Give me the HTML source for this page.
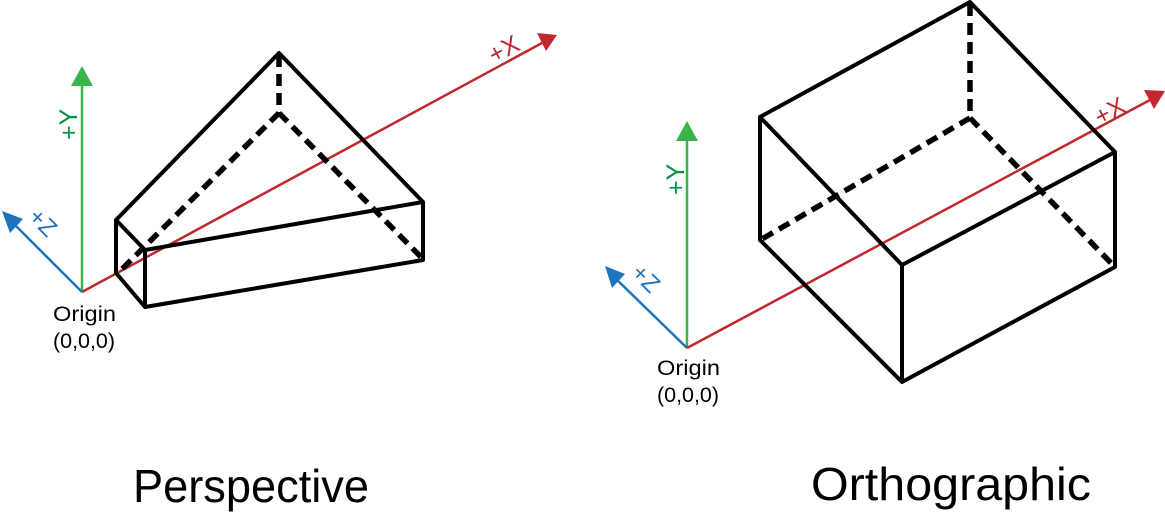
<!DOCTYPE html>
<html><head><meta charset="utf-8"><style>
html,body{margin:0;padding:0;background:#fff;}
svg{display:block;font-family:"Liberation Sans",sans-serif;}
</style></head><body>
<svg width="1165" height="513" viewBox="0 0 1165 513">
<g>
  <line x1="82" y1="292" x2="82" y2="84" stroke="#39b54a" stroke-width="2.5"/>
  <polygon points="82,66 71,86 93,86" fill="#39b54a"/>
  <text transform="translate(77,140) rotate(-90)" font-size="25" fill="#009245">+Y</text>
  <line x1="82" y1="292" x2="12" y2="222" stroke="#1c75bc" stroke-width="2.5"/>
  <polygon points="2,211 23,219 10,233" fill="#1c75bc"/>
  <text transform="translate(27,218) rotate(45)" font-size="24" fill="#1c75bc">+Z</text>
  <line x1="82" y1="292" x2="542" y2="43" stroke="#c1272d" stroke-width="2.5"/>
  <polygon points="557,35 537,33 546,51" fill="#c1272d"/>
  <text transform="translate(494,64) rotate(-28)" font-size="25" fill="#c1272d">+X</text>
  <text x="53" y="321" font-size="21" textLength="63" lengthAdjust="spacingAndGlyphs">Origin</text>
  <text x="53" y="348" font-size="21" textLength="62" lengthAdjust="spacingAndGlyphs">(0,0,0)</text>
  <g fill="none" stroke="#000" stroke-width="4" stroke-linejoin="round">
    <polyline points="116,220 279,53 423,202 423,260 145,307 116,273 116,220 145,250 145,307"/>
    <line x1="145" y1="250" x2="423" y2="202"/>
    <g stroke-dasharray="12,7" stroke-width="5.5">
      <line x1="279" y1="55" x2="279" y2="113"/>
      <line x1="279" y1="113" x2="118" y2="273"/>
      <line x1="279" y1="113" x2="422" y2="258"/>
    </g>
  </g>
  <text x="133" y="502" font-size="46" textLength="236" lengthAdjust="spacingAndGlyphs">Perspective</text>
</g>
<g>
  <line x1="687" y1="348" x2="687" y2="138" stroke="#39b54a" stroke-width="2.5"/>
  <polygon points="687,121 676,141 698,141" fill="#39b54a"/>
  <text transform="translate(684,195) rotate(-90)" font-size="25" fill="#009245">+Y</text>
  <line x1="687" y1="348" x2="614" y2="277" stroke="#1c75bc" stroke-width="2.5"/>
  <polygon points="605,266 625,274 612,288" fill="#1c75bc"/>
  <text transform="translate(630,274) rotate(45)" font-size="24" fill="#1c75bc">+Z</text>
  <line x1="687" y1="348" x2="1150" y2="100" stroke="#c1272d" stroke-width="2.5"/>
  <polygon points="1165,91 1144,90 1154,109" fill="#c1272d"/>
  <text transform="translate(1100,126) rotate(-28)" font-size="25" fill="#c1272d">+X</text>
  <text x="657" y="375" font-size="21" textLength="63" lengthAdjust="spacingAndGlyphs">Origin</text>
  <text x="657" y="402" font-size="21" textLength="62" lengthAdjust="spacingAndGlyphs">(0,0,0)</text>
  <g fill="none" stroke="#000" stroke-width="4" stroke-linejoin="round">
    <polyline points="760,117 970,2 1115,152 1115,267 902,382 760,240 760,117 902,265 902,382"/>
    <line x1="902" y1="265" x2="1115" y2="152"/>
    <g stroke-dasharray="12,7" stroke-width="5.5">
      <line x1="970" y1="4" x2="970" y2="118"/>
      <line x1="970" y1="118" x2="762" y2="239"/>
      <line x1="970" y1="118" x2="1114" y2="266"/>
    </g>
  </g>
  <text x="811" y="500" font-size="46" textLength="280" lengthAdjust="spacingAndGlyphs">Orthographic</text>
</g>
</svg>
</body></html>
